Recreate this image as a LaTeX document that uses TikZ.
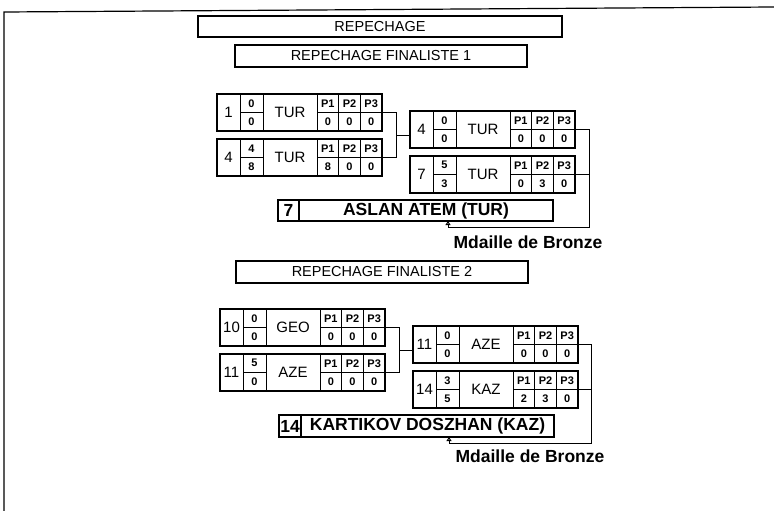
\documentclass[tikz,border=0pt]{standalone}
\usepackage{fontspec}
\setmainfont{Liberation Sans}
\usetikzlibrary{arrows.meta,calc}
\newcommand\fNum{\fontsize{15}{15}\selectfont}
\newcommand\fCty{\fontsize{15}{15}\selectfont}
\newcommand\fSml{\fontsize{11}{11}\selectfont\bfseries}
\newcommand\fHead{\fontsize{14.5}{14.5}\selectfont}
\newcommand\fWin{\fontsize{17.5}{17.5}\selectfont\bfseries}
\tikzset{
  cellbox/.style={draw, line width=0.8pt, inner sep=0pt, outer sep=0pt, anchor=north west},
  frame/.style={draw, line width=1.2pt, inner sep=0pt, outer sep=0pt, anchor=north west, minimum width=165pt, minimum height=37pt},
  headbox/.style={draw, line width=2pt, inner sep=0pt, outer sep=0pt, anchor=north west, font=\fHead},
  winbox/.style={draw, line width=1.5pt, inner sep=0pt, outer sep=0pt, anchor=north west, minimum height=21pt, font=\fWin},
  conn/.style={line width=1pt},
  medal/.style={font=\fWin, inner sep=0pt}
}
\newcommand\matchbox[9]{%
  \begin{scope}[shift={(#2)}]
    \node[cellbox, minimum width=23pt, minimum height=37pt, font=\fNum] (#1-n) at (0,0) {#3};
    \node[cellbox, minimum width=23pt, minimum height=18.5pt, font=\fSml] (#1-s1) at (23,0) {#4};
    \node[cellbox, minimum width=23pt, minimum height=18.5pt, font=\fSml] (#1-s2) at (23,18.5) {#5};
    \node[cellbox, minimum width=54pt, minimum height=37pt, font=\fCty] (#1-c) at (46,0) {#6};
    \node[cellbox, minimum width=21.667pt, minimum height=18.5pt, font=\fSml] (#1-h1) at (100,0) {P1};
    \node[cellbox, minimum width=21.667pt, minimum height=18.5pt, font=\fSml] (#1-h2) at (121.667,0) {P2};
    \node[cellbox, minimum width=21.667pt, minimum height=18.5pt, font=\fSml] (#1-h3) at (143.333,0) {P3};
    \node[cellbox, minimum width=21.667pt, minimum height=18.5pt, font=\fSml] (#1-v1) at (100,18.5) {#7};
    \node[cellbox, minimum width=21.667pt, minimum height=18.5pt, font=\fSml] (#1-v2) at (121.667,18.5) {#8};
    \node[cellbox, minimum width=21.667pt, minimum height=18.5pt, font=\fSml] (#1-v3) at (143.333,18.5) {#9};
    \node[frame] (#1) at (0,0) {};
  \end{scope}}
\begin{document}
\begin{tikzpicture}[x=1pt,y=-1pt]
\useasboundingbox (0,0) rectangle (774,511);
% page frame
\draw[line width=1.2pt] (4,511) -- (4,12) -- (774,7);
% headers
\node[headbox, minimum width=364pt, minimum height=21pt] (R0) at (198,16) {REPECHAGE};
\node[headbox, minimum width=292pt, minimum height=22pt] (F1) at (235,45) {REPECHAGE FINALISTE 1};
\node[headbox, minimum width=292pt, minimum height=22pt] (F2) at (236,261) {REPECHAGE FINALISTE 2};
% group 1
\matchbox{A}{217,94}{1}{0}{0}{TUR}{0}{0}{0}
\matchbox{B}{217,139}{4}{4}{8}{TUR}{8}{0}{0}
\matchbox{C}{410,111}{4}{0}{0}{TUR}{0}{0}{0}
\matchbox{D}{410,156}{7}{5}{3}{TUR}{0}{3}{0}
\node[winbox, minimum width=21pt] (W1n) at (278,200) {7};
\node[winbox, minimum width=254pt] (W1) at (299,200) {ASLAN ATEM (TUR)};
\coordinate (j1) at ($(A.east)!.5!(B.east)+(14,0)$);
\draw[conn] (A.east) -- ++(14,0) |- (B.east);
\draw[conn] (j1) -- (j1 -| C.west);
\coordinate (r1) at (589,227);
\coordinate (t1) at (448,227);
\draw[conn] (C.east) -| (r1) -- (t1);
\draw[conn] (D.east) -- (D.east -| r1);
\draw[conn, -{Triangle[open,length=4pt,width=5pt]}] (t1) -- (t1 |- W1.south);
\node[medal] (M1) at (528,242) {Mdaille de Bronze};
% group 2
\matchbox{E}{220,309}{10}{0}{0}{GEO}{0}{0}{0}
\matchbox{F}{220,354}{11}{5}{0}{AZE}{0}{0}{0}
\matchbox{G}{413,326}{11}{0}{0}{AZE}{0}{0}{0}
\matchbox{H}{413,371}{14}{3}{5}{KAZ}{2}{3}{0}
\node[winbox, minimum width=22pt, minimum height=22pt] (W2n) at (279,415) {14};
\node[winbox, minimum width=253pt, minimum height=22pt] (W2) at (301,415) {KARTIKOV DOSZHAN (KAZ)};
\coordinate (j2) at ($(E.east)!.5!(F.east)+(14,0)$);
\draw[conn] (E.east) -- ++(14,0) |- (F.east);
\draw[conn] (j2) -- (j2 -| G.west);
\coordinate (r2) at (591,443);
\coordinate (t2) at (449,443);
\draw[conn] (G.east) -| (r2) -- (t2);
\draw[conn] (H.east) -- (H.east -| r2);
\draw[conn, -{Triangle[open,length=4pt,width=5pt]}] (t2) -- (t2 |- W2.south);
\node[medal] (M2) at (530,456) {Mdaille de Bronze};
\end{tikzpicture}
\end{document}
